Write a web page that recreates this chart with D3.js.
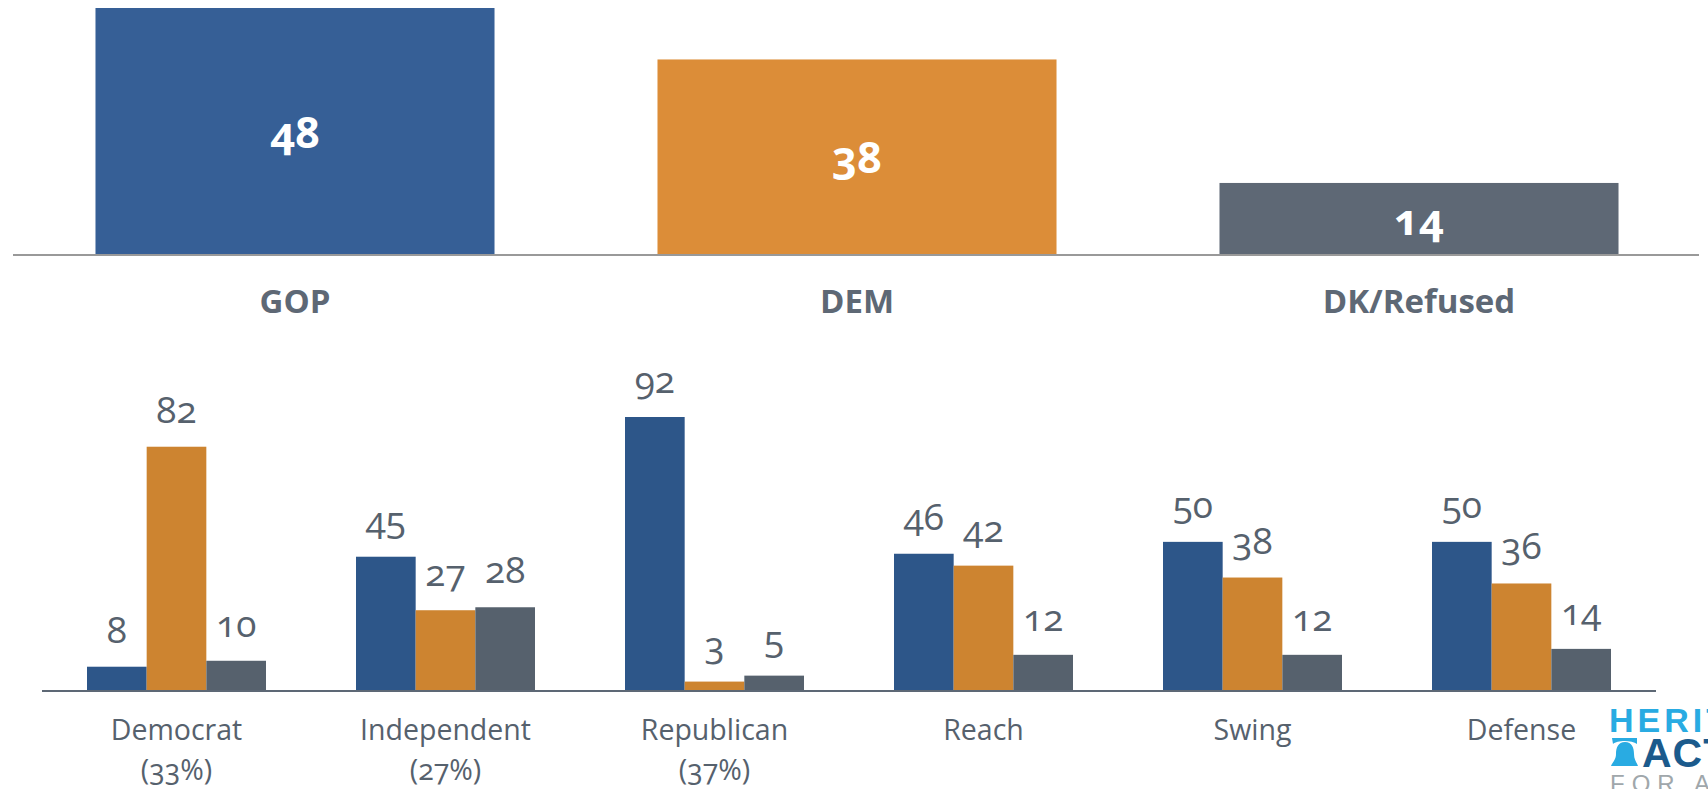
<!DOCTYPE html>
<html lang="en">
<head>
    <meta charset="UTF-8">
    <script src="https://d3js.org/d3.v7.min.js"></script>
    <style>
        html, body { margin: 0; padding: 0; background: white; overflow: hidden; }
        svg { display: block; }
        text { font-family: "Open Sans", Lato, sans-serif; font-feature-settings: "onum" 1; }
        .top-value { font-size: 43px; font-weight: 700; fill: white; text-anchor: middle; }
        .top-cat { font-size: 33px; font-weight: 700; fill: #5e6875; text-anchor: middle; }
        .value { font-size: 37px; fill: #56616d; text-anchor: middle; }
        .cat { font-size: 28.5px; fill: #56616d; text-anchor: middle; }
    </style>
</head>
<body>
    <svg id="chart"></svg>
    <script>
        const topCategories = ["GOP", "DEM", "DK/Refused"];
        const topValues = [48, 38, 14];
        const topColors = ["#365f96", "#dc8d38", "#5e6875"];

        const categories = ["Democrat", "Independent", "Republican", "Reach", "Swing", "Defense"];
        const shares = ["(33%)", "(27%)", "(37%)"];
        const seriesNames = ["GOP", "DEM", "DK/Refused"];
        const gopValues = [8, 45, 92, 46, 50, 50];
        const demValues = [82, 27, 3, 42, 38, 36];
        const dkValues = [10, 28, 5, 12, 12, 14];
        const seriesColors = ["#2d5689", "#cd8430", "#56616d"];

        const width = 1708, height = 789;
        const svg = d3.select("#chart").attr("width", width).attr("height", height);

        // top chart
        const topBase = 255;
        const xTop = d3.scaleBand().domain(topCategories).range([14, 1700]).paddingInner(0.29).paddingOuter(0.145);
        const yTop = d3.scaleLinear().domain([0, 48]).range([topBase, 8]);

        svg.selectAll(".top-bar")
            .data(topValues)
            .enter().append("rect")
            .attr("class", "top-bar")
            .attr("x", (d, i) => xTop(topCategories[i]))
            .attr("y", d => yTop(d))
            .attr("width", xTop.bandwidth())
            .attr("height", d => topBase - yTop(d))
            .attr("fill", (d, i) => topColors[i]);

        svg.append("line")
            .attr("x1", 13).attr("x2", 1699)
            .attr("y1", topBase).attr("y2", topBase)
            .attr("stroke", "#999").attr("stroke-width", 2);

        svg.selectAll(".top-value")
            .data(topValues)
            .enter().append("text")
            .attr("class", "top-value")
            .attr("x", (d, i) => xTop(topCategories[i]) + xTop.bandwidth() / 2)
            .attr("y", d => (yTop(d) + topBase) / 2 + 16)
            .text(d => d);

        svg.selectAll(".top-cat")
            .data(topCategories)
            .enter().append("text")
            .attr("class", "top-cat")
            .attr("x", d => xTop(d) + xTop.bandwidth() / 2)
            .attr("y", 313)
            .text(d => d);

        // bottom chart
        const base = 690.5;
        const x = d3.scaleBand().domain(categories).range([42, 1656]);
        const xInner = d3.scaleBand().domain(seriesNames).range([45, x.bandwidth() - 45]);
        const y = d3.scaleLinear().domain([0, 92]).range([base, 417]);

        const groups = [gopValues, demValues, dkValues];
        groups.forEach((vals, s) => {
            svg.selectAll(".bar" + s)
                .data(vals)
                .enter().append("rect")
                .attr("class", "bar" + s)
                .attr("x", (d, i) => x(categories[i]) + xInner(seriesNames[s]))
                .attr("y", d => y(d))
                .attr("width", xInner.bandwidth())
                .attr("height", d => base - y(d))
                .attr("fill", seriesColors[s]);

            svg.selectAll(".value" + s)
                .data(vals)
                .enter().append("text")
                .attr("class", "value value" + s)
                .attr("x", (d, i) => x(categories[i]) + xInner(seriesNames[s]) + xInner.bandwidth() / 2)
                .attr("y", d => y(d) - 24)
                .text(d => d);
        });

        svg.append("line")
            .attr("x1", 42).attr("x2", 1656)
            .attr("y1", base + 0.5).attr("y2", base + 0.5)
            .attr("stroke", "#5d6875").attr("stroke-width", 2);

        svg.selectAll(".cat-label")
            .data(categories)
            .enter().append("text")
            .attr("class", "cat cat-label")
            .attr("x", d => x(d) + x.bandwidth() / 2)
            .attr("y", 740)
            .text(d => d);

        svg.selectAll(".share")
            .data(shares)
            .enter().append("text")
            .attr("class", "cat share")
            .attr("x", (d, i) => x(categories[i]) + x.bandwidth() / 2)
            .attr("y", 780)
            .text(d => d);

        // logo, cut by the page edge like the source
        const logo = svg.append("g").attr("font-weight", 700);
        logo.append("text").attr("x", 1609).attr("y", 732).attr("fill", "#29abe2")
            .attr("font-size", 34).attr("letter-spacing", 4).style("font-family", "Liberation Sans").text("HERIT");
        logo.append("path")
            .attr("fill", "#29abe2")
            .attr("d", "M1612 738H1637V744C1632 740 1617 740 1613 744ZM1625 742C1632 742 1634 748 1634 754C1634 760 1637 763 1638 766H1611C1612 763 1616 760 1616 754C1616 748 1618 742 1625 742Z");
        logo.append("text").attr("x", 1642).attr("y", 767).attr("fill", "#1b5a8c")
            .attr("font-size", 41).attr("letter-spacing", 1).style("font-family", "Liberation Sans").text("ACT");
        logo.append("text").attr("x", 1610).attr("y", 792).attr("fill", "#a0a7ab").attr("font-weight", 400)
            .attr("font-size", 24).attr("letter-spacing", 7).style("font-family", "Liberation Sans").text("FOR AM");
    </script>
</body>
</html>
